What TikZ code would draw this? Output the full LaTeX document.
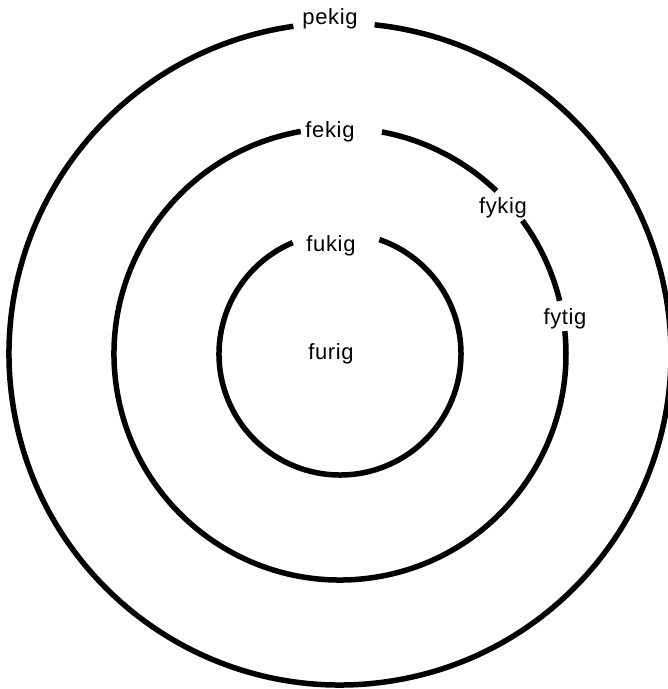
\documentclass[tikz,border=0pt]{standalone}
\usepackage{fontspec}
\setmainfont{Liberation Sans}
\newfontfamily\tagfont[LetterSpace=3]{Liberation Sans}
\usepackage{tikz}

\begin{document}
\begin{tikzpicture}[
    x=1pt, y=1pt,
    ring/.style={draw=black, line width=5.5pt},
    tag/.style={anchor=base, inner sep=0pt, font=\tagfont\fontsize{22}{24}\selectfont}
]
\useasboundingbox (-340,-335) rectangle (328,354);
\coordinate (o) at (0,0);

% Rings
\draw[ring] ([shift={(98.1:331)}]o) arc[start angle=98.1, end angle=444.0, radius=331];
\draw[ring] ([shift={(100.0:226)}]o) arc[start angle=100.0, end angle=365.8, radius=226];
\draw[ring] ([shift={(13.6:226)}]o) arc[start angle=13.6, end angle=36.2, radius=226];
\draw[ring] ([shift={(46.2:226)}]o) arc[start angle=46.2, end angle=79.3, radius=226];
\draw[ring] ([shift={(113:121)}]o) arc[start angle=113, end angle=431, radius=121];

% Labels
\node[tag] (pekig) at (-10,329) {pekig};
\node[tag] (fekig) at (-10,217) {fekig};
\node[tag] (fykig) at (163,141) {fykig};
\node[tag] (fytig) at (225,30) {fytig};
\node[tag] (fukig) at (-9,103) {fukig};
\node[tag] (furig) at (-9,-5) {furig};

\end{tikzpicture}
\end{document}
